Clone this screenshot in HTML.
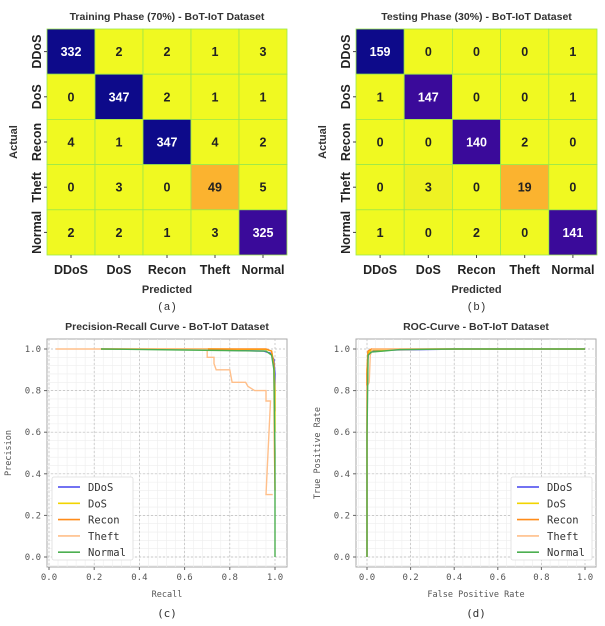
<!DOCTYPE html>
<html><head><meta charset="utf-8">
<style>
html,body{margin:0;padding:0;background:#fff;}
body{width:605px;height:626px;overflow:hidden;font-family:"Liberation Sans",sans-serif;}
svg{display:block;}
</style></head>
<body>
<svg id="root" width="605" height="626" xmlns="http://www.w3.org/2000/svg"></svg>
<script>
const classes = ["DDoS","DoS","Recon","Theft","Normal"];
const trainMatrix = [[332,2,2,1,3],[0,347,2,1,1],[4,1,347,4,2],[0,3,0,49,5],[2,2,1,3,325]];
const testMatrix = [[159,0,0,0,1],[1,147,0,0,1],[0,0,140,2,0],[0,3,0,19,0],[1,0,2,0,141]];
const tickVals = [0,0.2,0.4,0.6,0.8,1.0];
const tickLabels = ["0.0","0.2","0.4","0.6","0.8","1.0"];
const seriesColors = ["#4444ee","#f2d400","#ff8c1a","#ffbf8a","#4caf50"];
// PR curves: [recall, precision]
const prDDoS = [[0.23,1.0],[0.6,0.998],[0.95,0.99],[0.98,0.98],[0.995,0.95],[1.0,0.88],[1.0,0.7]];
const prDoS = [[0.23,1.0],[0.7,1.0],[0.96,0.998],[0.985,0.99],[0.995,0.93],[1.0,0.8],[1.0,0.6]];
const prRecon = [[0.23,1.0],[0.7,1.0],[0.96,1.0],[0.985,0.99],[0.995,0.92],[0.998,0.5],[1.0,0.32]];
const prTheft = [[0.03,1.0],[0.7,1.0],[0.7,0.96],[0.73,0.96],[0.73,0.93],[0.74,0.9],[0.8,0.9],[0.81,0.84],[0.87,0.84],[0.88,0.82],[0.91,0.8],[0.96,0.8],[0.96,0.75],[0.98,0.75],[0.96,0.3],[0.99,0.3]];
const prNormal = [[0.23,1.0],[0.6,0.995],[0.96,0.99],[0.985,0.97],[0.995,0.9],[1.0,0.5],[1.0,0.0]];
// ROC curves: [fpr, tpr]
const rocDDoS = [[0,0],[0,0.88],[0.005,0.97],[0.02,0.99],[0.1,0.995],[0.42,1.0],[1,1]];
const rocDoS = [[0,0],[0,0.9],[0.005,0.98],[0.02,0.995],[0.33,1.0],[1,1]];
const rocRecon = [[0,0],[0,0.9],[0.004,0.99],[0.02,1.0],[1,1]];
const rocTheft = [[0,0],[0,0.82],[0.01,0.84],[0.015,0.97],[0.025,1.0],[1,1]];
const rocNormal = [[0,0],[0,0.58],[0.005,0.97],[0.02,0.985],[0.15,0.997],[0.4,1.0],[1,1]];

const NS="http://www.w3.org/2000/svg";
const root=document.getElementById('root');
function el(tag,attrs,parent,text){const e=document.createElementNS(NS,tag);for(const k in attrs)e.setAttribute(k,attrs[k]);if(text!==undefined)e.textContent=text;(parent||root).appendChild(e);return e;}

function cellColor(v,maxV){
  const t=v/maxV;
  if(t<0.015) return "#f0f921";
  if(t<0.05) return "#eef223";
  if(t<0.3) return "#fbb32f";
  if(t<0.95) return "#3a0a9a";
  return "#0d0a8a";
}

function drawMatrix(x0,y0,w,h,mat,title,letter,name){
  const g=el('g',{},root);
  
  
  const cw=w/5,ch=h/5;
  const maxV=Math.max(...mat.map(r=>Math.max(...r)));
  const t=el('text',{x:x0+w/2,y:y0-9,'text-anchor':'middle','font-size':'10.5','font-weight':'bold',fill:'#333'},g,title);
  
  
  for(let r=0;r<5;r++){
    for(let c=0;c<5;c++){
      const v=mat[r][c];
      const col=cellColor(v,maxV);
      const rect=el('rect',{x:x0+c*cw,y:y0+r*ch,width:cw,height:ch,fill:col,stroke:'#9be84a','stroke-width':0.8},g);
      
      
      const dark=(col==="#3a0a9a"||col==="#0d0a8a");
      const tx=el('text',{x:x0+c*cw+cw/2,y:y0+r*ch+ch/2+4.5,'text-anchor':'middle','font-size':'12.5','font-weight':'bold',fill:dark?'#fff':'#222'},g,String(v));
      
      
    }
  }
  for(let i=0;i<5;i++){
    const xl=el('text',{x:x0+i*cw+cw/2,y:y0+h+19,'text-anchor':'middle','font-size':'12.5','font-weight':'bold',fill:'#222'},g,classes[i]);
    
    
    el('line',{x1:x0+i*cw+cw/2,x2:x0+i*cw+cw/2,y1:y0+h,y2:y0+h+3,stroke:'#444'},g);
    const cy=y0+i*ch+ch/2;
    const yl=el('text',{x:0,y:0,'text-anchor':'middle','font-size':'12.5','font-weight':'bold',fill:'#222',transform:`translate(${x0-6},${cy}) rotate(-90)`},g,classes[i]);
    
    
    el('line',{x1:x0-3,x2:x0,y1:cy,y2:cy,stroke:'#444'},g);
  }
  const xt=el('text',{x:x0+w/2,y:y0+h+38,'text-anchor':'middle','font-size':'11','font-weight':'bold',fill:'#333'},g,'Predicted');
  
  
  const yt=el('text',{x:0,y:0,'text-anchor':'middle','font-size':'11','font-weight':'bold',fill:'#333',transform:`translate(${x0-30},${y0+h/2}) rotate(-90)`},g,'Actual');
  
  
  const lt=el('text',{x:x0+w/2,y:y0+h+55,'text-anchor':'middle','font-size':'11','font-family':'Liberation Mono, monospace',fill:'#333'},g,letter);
  
  
}

function drawCurves(box,xr,yr,series,title,xlabel,ylabel,letter,legendX,name){
  const g=el('g',{},root);
  
  
  const sx=v=>xr[0]+v*(xr[1]-xr[0]);
  const sy=v=>yr[0]+v*(yr[1]-yr[0]);
  el('rect',{x:box[0],y:box[1],width:box[2]-box[0],height:box[3]-box[1],fill:'#fff',stroke:'#aaa','stroke-width':1},g);
  for(let i=0;i<=25;i++){const v=-0.04+i*0.04;
    const X=sx(Math.round(v*100)/100),Y=sy(Math.round(v*100)/100);
    if(X>box[0]&&X<box[2]) el('line',{x1:X,x2:X,y1:box[1],y2:box[3],stroke:'#eee','stroke-width':0.6},g);
    if(Y>box[1]&&Y<box[3]) el('line',{x1:box[0],x2:box[2],y1:Y,y2:Y,stroke:'#eee','stroke-width':0.6},g);
  }
  tickVals.forEach((v,i)=>{
    const X=sx(v),Y=sy(v);
    el('line',{x1:X,x2:X,y1:box[1],y2:box[3],stroke:'#bbb','stroke-width':0.7,'stroke-dasharray':'2,2'},g);
    el('line',{x1:box[0],x2:box[2],y1:Y,y2:Y,stroke:'#bbb','stroke-width':0.7,'stroke-dasharray':'2,2'},g);
    el('line',{x1:X,x2:X,y1:box[3],y2:box[3]+3,stroke:'#666'},g);
    el('line',{x1:box[0]-3,x2:box[0],y1:Y,y2:Y,stroke:'#666'},g);
    const xl=el('text',{x:X,y:box[3]+13,'text-anchor':'middle','font-size':'9','font-family':'DejaVu Sans Mono, monospace',fill:'#555'},g,tickLabels[i]);
    
    
    const yl=el('text',{x:box[0]-6,y:Y+3,'text-anchor':'end','font-size':'9','font-family':'DejaVu Sans Mono, monospace',fill:'#555'},g,tickLabels[i]);
    
    
  });
  series.forEach((s,i)=>{
    const d=s.map((p,j)=>(j?'L':'M')+sx(p[0]).toFixed(1)+','+sy(p[1]).toFixed(1)).join(' ');
    const p=el('path',{d:d,fill:'none',stroke:seriesColors[i],'stroke-width':1.4},g);
    
    
  });
  const t=el('text',{x:(box[0]+box[2])/2,y:box[1]-9,'text-anchor':'middle','font-size':'10.5','font-weight':'bold',fill:'#333'},g,title);
  
  
  const xt=el('text',{x:(box[0]+box[2])/2,y:box[3]+30,'text-anchor':'middle','font-size':'8.5','font-family':'DejaVu Sans Mono, monospace',fill:'#555'},g,xlabel);
  
  
  const yt=el('text',{x:0,y:0,'text-anchor':'middle','font-size':'8.5','font-family':'DejaVu Sans Mono, monospace',fill:'#555',transform:`translate(${box[0]-36},${(box[1]+box[3])/2}) rotate(-90)`},g,ylabel);
  
  
  const lt=el('text',{x:(box[0]+box[2])/2,y:box[3]+50,'text-anchor':'middle','font-size':'11','font-family':'DejaVu Sans Mono, monospace',fill:'#333'},g,letter);
  
  
  const lg=el('g',{},g);
  
  
  el('rect',{x:legendX,y:477,width:81,height:83,fill:'#fff',stroke:'#ddd','stroke-width':0.8,rx:2},lg);
  classes.forEach((c,i)=>{
    const y=487+i*16.3;
    el('line',{x1:legendX+6,x2:legendX+28,y1:y,y2:y,stroke:seriesColors[i],'stroke-width':1.6},lg);
    const e=el('text',{x:legendX+36,y:y+4,'font-size':'10.5','font-family':'DejaVu Sans Mono, monospace',fill:'#333'},lg,c);
    
    
  });
}

drawMatrix(47,29,240,226,trainMatrix,'Training Phase (70%) - BoT-IoT  Dataset','(a)','training-confusion-matrix');
drawMatrix(356,29,241,226,testMatrix,'Testing Phase (30%) - BoT-IoT  Dataset','(b)','testing-confusion-matrix');
drawCurves([47,339,287,567],[49,275],[557,349],[prDDoS,prDoS,prRecon,prTheft,prNormal],'Precision-Recall Curve - BoT-IoT  Dataset','Recall','Precision','(c)',52,'precision-recall-chart');
drawCurves([356,339,596,567],[367,585],[557,349],[rocDDoS,rocDoS,rocRecon,rocTheft,rocNormal],'ROC-Curve - BoT-IoT  Dataset','False Positive Rate','True Positive Rate','(d)',511,'roc-chart');
</script>
</body></html>
